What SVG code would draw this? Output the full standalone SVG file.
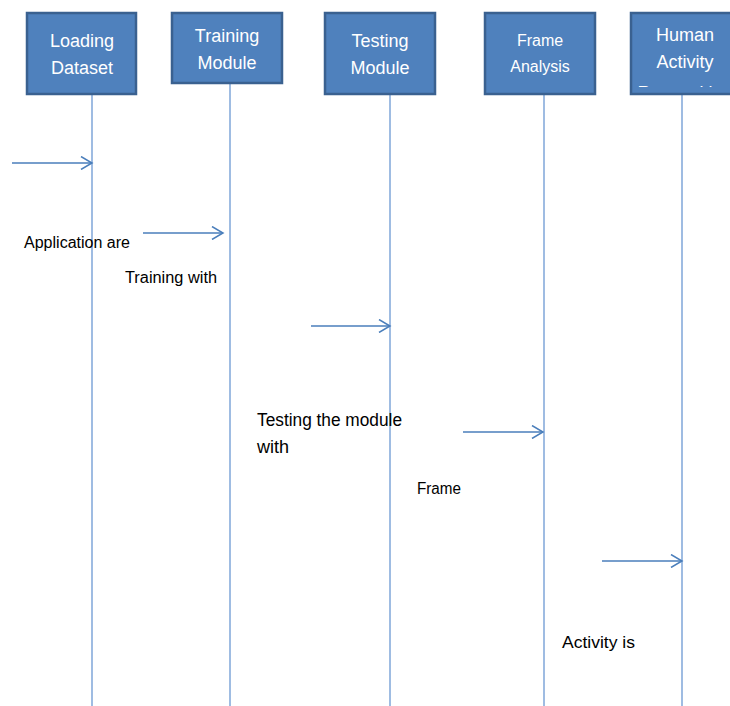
<svg xmlns="http://www.w3.org/2000/svg" width="730" height="706" viewBox="0 0 730 706">
<style>
.box{fill:#4F81BD;stroke:#3A6190;stroke-width:2.5}
.bt{fill:#fff;font-family:"Liberation Sans",Arial,sans-serif;font-size:18px;text-anchor:middle}
.life{stroke:#7FA6D9;stroke-width:1.5}
.msg{stroke:#4A7EBB;stroke-width:1.5;fill:none}
.lbl{fill:#000;font-family:"Liberation Sans",Arial,sans-serif;font-size:16px}
</style>
<defs>
<marker id="arr" markerWidth="14" markerHeight="14" refX="12" refY="7" orient="auto" markerUnits="userSpaceOnUse">
<path d="M1,0.5 L12,7 L1,13.5" fill="none" stroke="#4A7EBB" stroke-width="1.5"/>
</marker>
<clipPath id="c5"><rect x="630" y="12" width="100" height="75"/></clipPath>
</defs>
<rect width="730" height="706" fill="#fff"/>
<g id="lifelines">
<line class="life" x1="92" y1="94" x2="92" y2="706"/>
<line class="life" x1="230" y1="84" x2="230" y2="706"/>
<line class="life" x1="390" y1="94" x2="390" y2="706"/>
<line class="life" x1="544" y1="94" x2="544" y2="706"/>
<line class="life" x1="682" y1="94" x2="682" y2="706"/>
</g>
<g id="n1"><rect class="box" x="27" y="13" width="109" height="81"/>
<text class="bt" x="82" y="47">Loading</text><text class="bt" x="82" y="74">Dataset</text></g>
<g id="n2"><rect class="box" x="172" y="13" width="110" height="70"/>
<text class="bt" x="227" y="42">Training</text><text class="bt" x="227" y="69">Module</text></g>
<g id="n3"><rect class="box" x="325" y="13" width="110" height="81"/>
<text class="bt" x="380" y="47">Testing</text><text class="bt" x="380" y="74">Module</text></g>
<g id="n4"><rect class="box" x="485" y="13" width="110" height="81"/>
<text class="bt" x="540" y="46" style="font-size:16px">Frame</text><text class="bt" x="540" y="72" style="font-size:16px">Analysis</text></g>
<g id="n5"><rect class="box" x="631" y="13" width="110" height="81"/>
<text class="bt" x="685" y="41">Human</text><text class="bt" x="685" y="68">Activity</text>
<text class="bt" x="685" y="99" clip-path="url(#c5)">Recognition</text></g>
<g id="connectors">
<line class="msg" x1="12" y1="163" x2="92" y2="163" marker-end="url(#arr)"/>
<line class="msg" x1="143" y1="233" x2="223" y2="233" marker-end="url(#arr)"/>
<line class="msg" x1="311" y1="326" x2="390" y2="326" marker-end="url(#arr)"/>
<line class="msg" x1="463" y1="432" x2="543" y2="432" marker-end="url(#arr)"/>
<line class="msg" x1="602" y1="561" x2="682" y2="561" marker-end="url(#arr)"/>
</g>
<g id="labels">
<text class="lbl" x="24" y="248" textLength="106" lengthAdjust="spacingAndGlyphs">Application are</text>
<text class="lbl" x="125" y="283" textLength="92" lengthAdjust="spacingAndGlyphs">Training with</text>
<text class="lbl" x="257" y="426" style="font-size:18px" textLength="145" lengthAdjust="spacingAndGlyphs">Testing the module</text>
<text class="lbl" x="257" y="453" style="font-size:18px">with</text>
<text class="lbl" x="417" y="494" textLength="44" lengthAdjust="spacingAndGlyphs">Frame</text>
<text class="lbl" x="562" y="648" style="font-size:17px" textLength="73" lengthAdjust="spacingAndGlyphs">Activity is</text>
</g>
</svg>
